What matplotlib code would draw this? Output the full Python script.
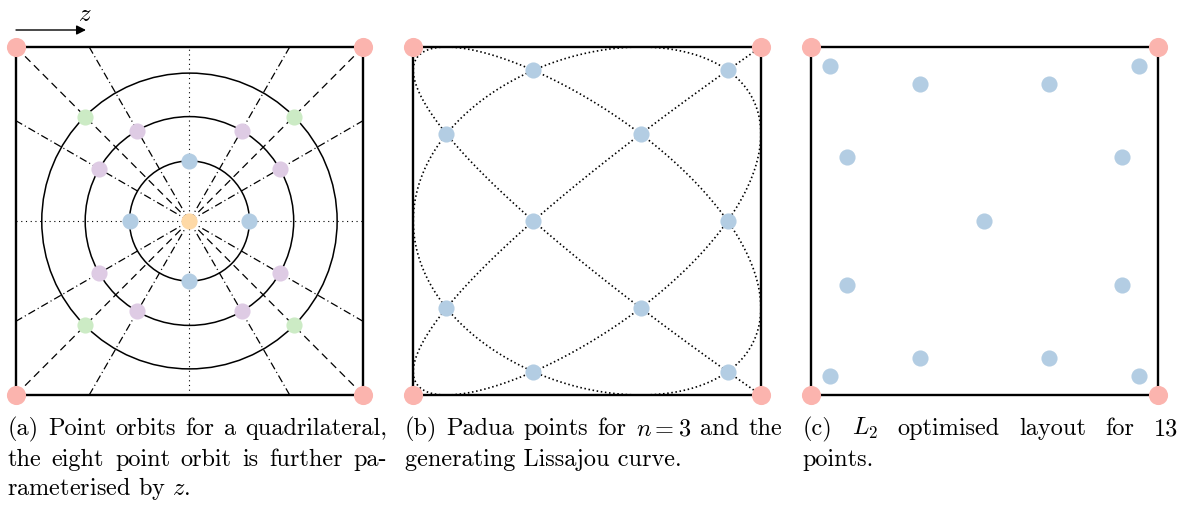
import numpy as np
import matplotlib.pyplot as plt
from matplotlib.patches import Circle

plt.rcParams['mathtext.fontset'] = 'cm'
plt.rcParams['lines.scale_dashes'] = False

W, H = 1184, 505

# pastel palette used for the orbits
c_corner = "#fbb4ae"
c_blue = "#b3cde3"
c_green = "#ccebc5"
c_purple = "#decbe4"
c_orange = "#fed9a6"

corners_x = [-1, 1, 1, -1]
corners_y = [-1, -1, 1, 1]

# (a) point orbits
centre_x = [0.0]
centre_y = [0.0]
four_x = [0.345, -0.345, 0.0, 0.0]
four_y = [0.0, 0.0, 0.345, -0.345]
diag_x = [0.60, -0.60, 0.60, -0.60]
diag_y = [0.60, 0.60, -0.60, -0.60]
eight_x = [0.30, -0.30, 0.30, -0.30, 0.52, -0.52, 0.52, -0.52]
eight_y = [0.52, 0.52, -0.52, -0.52, 0.30, 0.30, -0.30, -0.30]
orbit_radii = [0.345, 0.60, 0.85]
# dash-dot rays from the centre through the eight point orbit, end points on the edge
ray_x = [0.577, -0.577, 0.577, -0.577, 1, -1, 1, -1]
ray_y = [1, 1, -1, -1, 0.577, 0.577, -0.577, -0.577]

# (b) Padua points and Lissajou curve frequencies
padua_x = [-0.309, 0.809, -0.809, 0.309, -0.309, 0.809, -0.809, 0.309, -0.309, 0.809]
padua_y = [0.866, 0.866, 0.5, 0.5, 0.0, 0.0, -0.5, -0.5, -0.866, -0.866]
liss_fx, liss_fy = 6, 5

# (c) L2 optimised layout
opt_x = [-0.89, 0.89, -0.37, 0.37, -0.79, 0.79, 0.0, -0.79, 0.79, -0.37, 0.37, -0.89, 0.89]
opt_y = [0.89, 0.89, 0.79, 0.79, 0.37, 0.37, 0.0, -0.37, -0.37, -0.79, -0.79, -0.89, -0.89]

captions = [
    ["(a) Point orbits for a quadrilateral,", "the eight point orbit is further pa-",
     "rameterised by $z$."],
    ["(b) Padua points for $n = 3$ and the", "generating Lissajou curve."],
    ["(c) $L_2$ optimised layout for 13", "points."],
]

fig = plt.figure(figsize=(W / 100, H / 100), dpi=100)

lefts = [15.7, 413.3, 810.7]
axes = []
for left in lefts:
    ax = fig.add_axes([left / W, 1 - 395 / H, 347.5 / W, 348 / H])
    ax.set_xlim(-1, 1)
    ax.set_ylim(-1, 1)
    ax.axis("off")
    ax.plot([-1, 1, 1, -1, -1], [-1, -1, 1, 1, -1], color="k", lw=1.7,
            solid_joinstyle="miter", clip_on=False, zorder=3)
    axes.append(ax)

dot_big = 190
dot = 135

# panel (a)
ax = axes[0]
ax.plot([-1, 1], [0, 0], color="k", lw=0.8, ls=(0, (0.8, 2.6)), zorder=1)
ax.plot([0, 0], [-1, 1], color="k", lw=0.8, ls=(0, (0.8, 2.6)), zorder=1)
for sx in (-1, 1):
    ax.plot([0, sx], [0, 1], color="k", lw=0.9, ls=(0, (5.5, 3.5)), zorder=1)
    ax.plot([0, sx], [0, -1], color="k", lw=0.9, ls=(0, (5.5, 3.5)), zorder=1)
for rx, ry in zip(ray_x, ray_y):
    ax.plot([0, rx], [0, ry], color="k", lw=0.9, ls=(0, (5.5, 2.2, 0.8, 2.2)), zorder=1)
for r in orbit_radii:
    ax.add_patch(Circle((0, 0), r, fill=False, ec="k", lw=1.1, zorder=2))
ax.scatter(four_x, four_y, s=dot, color=c_blue, lw=0, zorder=4)
ax.scatter(eight_x, eight_y, s=dot, color=c_purple, lw=0, zorder=4)
ax.scatter(diag_x, diag_y, s=dot, color=c_green, lw=0, zorder=4)
ax.scatter(centre_x, centre_y, s=dot, color=c_orange, lw=0, zorder=4)

# panel (b)
ax = axes[1]
t = np.linspace(0, np.pi, 3000)
ax.plot(np.cos(liss_fx * t), np.cos(liss_fy * t), color="k", lw=1.2,
        ls=(0, (1.1, 1.9)), zorder=1, clip_on=False)
ax.scatter(padua_x, padua_y, s=dot, color=c_blue, lw=0, zorder=4)

# panel (c)
ax = axes[2]
ax.scatter(opt_x, opt_y, s=dot, color=c_blue, lw=0, zorder=4)

for ax in axes:
    ax.scatter(corners_x, corners_y, s=dot_big, color=c_corner, lw=0, zorder=5, clip_on=False)

# z arrow above panel (a)
fig.add_artist(plt.Annotation("", xy=(86 / W, 1 - 30 / H), xytext=(16 / W, 1 - 30 / H),
                              xycoords="figure fraction", textcoords="figure fraction",
                              arrowprops=dict(arrowstyle="-|>", color="k", lw=1.0,
                                              mutation_scale=14, shrinkA=0, shrinkB=0)))
fig.text(85 / W, 1 - 21 / H, "$z$", fontsize=18, ha="center", va="baseline")

# captions, justified like the LaTeX source
fs = 17.5
fam = "cmr10"
renderer = fig.canvas.get_renderer()
cap_x0 = [7.3, 405.0, 802.7]
cap_x1 = [387.0, 782.0, 1178.0]
baselines = [435, 466, 495]


def put_line(text, x0, x1, y, justify):
    if not justify:
        fig.text(x0 / W, 1 - y / H, text, fontsize=fs, family=fam, va="baseline")
        return
    words = text.split(" ")
    # keep math words together
    merged = []
    for w in words:
        if merged and merged[-1].count("$") % 2 == 1:
            merged[-1] += " " + w
        else:
            merged.append(w)
    arts = [fig.text(0, 1 - y / H, w, fontsize=fs, family=fam, va="baseline") for w in merged]
    widths = [a.get_window_extent(renderer).width for a in arts]
    gap = (x1 - x0 - sum(widths)) / max(len(arts) - 1, 1)
    x = x0
    for a, w in zip(arts, widths):
        a.set_x(x / W)
        x += w + gap


for i, lines in enumerate(captions):
    for j, line in enumerate(lines):
        put_line(line, cap_x0[i], cap_x1[i], baselines[j], j < len(lines) - 1)

fig.savefig("out.png", dpi=100)
